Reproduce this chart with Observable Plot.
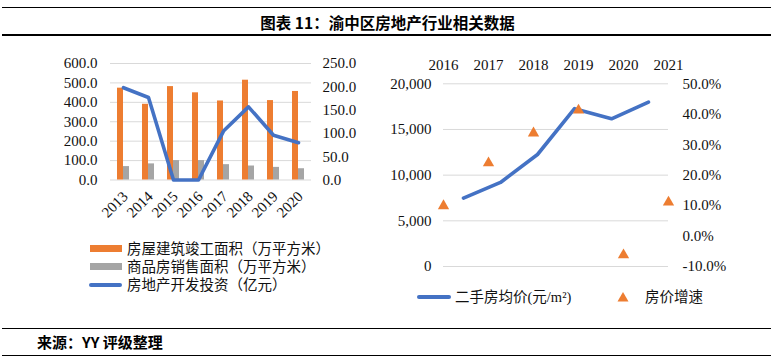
<!DOCTYPE html>
<html><head><meta charset="utf-8">
<script src="https://cdn.jsdelivr.net/npm/d3@7"></script>
<script src="https://cdn.jsdelivr.net/npm/@observablehq/plot@0.6"></script>
<style>
html,body{margin:0;padding:0;background:#fff}
body{width:779px;height:360px;position:relative;overflow:hidden;font-family:"Liberation Serif","Noto Sans CJK SC",serif;color:#111}
.rule{position:absolute;left:2px;width:769px;height:1.4px;background:#000}
.abs{position:absolute}
.title{position:absolute;left:0;width:775px;top:12px;text-align:center;font-family:"Noto Sans CJK SC",sans-serif;font-weight:700;font-size:15.5px;line-height:20px;color:#000}
.caption{position:absolute;left:37px;top:332px;font-family:"Noto Sans CJK SC",sans-serif;font-weight:700;font-size:15px;line-height:20px;color:#000}
.lg{position:absolute;font-size:14.5px;line-height:18px;white-space:nowrap;color:#111}
.sw{position:absolute}
</style></head><body>
<div class="rule" style="top:6.6px"></div>
<div class="title">图表 11：渝中区房地产行业相关数据</div>
<div class="rule" style="top:34.4px"></div>
<div id="left1" class="abs" style="left:0;top:40px;width:370px;height:190px"></div>
<div id="left2" class="abs" style="left:0;top:40px;width:370px;height:190px"></div>
<div id="right1" class="abs" style="left:380px;top:40px;width:380px;height:240px"></div>
<div id="right2" class="abs" style="left:380px;top:40px;width:380px;height:240px"></div>
<div id="legends"></div>
<div class="rule" style="top:327.6px"></div>
<div class="caption">来源：YY 评级整理</div>
<div class="rule" style="top:355px"></div>
<script>
// ---- Left chart data ----
const years = ["2013","2014","2015","2016","2017","2018","2019","2020"];
const completedArea = [473, 390, 481, 449, 407, 514, 409, 456]; // 房屋建筑竣工面积（万平方米）
const salesArea = [69, 83, 100, 100, 79, 72, 65, 58];            // 商品房销售面积（万平方米）
const investment = [198, 177, 0, 0, 105, 157, 96, 80];          // 房地产开发投资（亿元）
const leftTicks = [0, 100, 200, 300, 400, 500, 600];
const rightTicks = [0, 50, 100, 150, 200, 250];

// ---- Right chart data ----
const priceYears = ["2016","2017","2018","2019","2020","2021"];
const avgPrice = [7480, 9200, 12260, 17280, 16170, 17990];      // 二手房均价(元/m²)
const priceGrowth = [0.099, 0.240, 0.338, 0.413, -0.062, 0.111]; // 房价增速
const priceTicks = [0, 5000, 10000, 15000, 20000];
const growthTicks = [-0.1, 0, 0.1, 0.2, 0.3, 0.4, 0.5];

const legendLeft = ["房屋建筑竣工面积（万平方米）", "商品房销售面积（万平方米）", "房地产开发投资（亿元）"];
const legendRight = ["二手房均价(元/m²)", "房价增速"];

const ORANGE = "#ED7D31", GRAY = "#A5A5A5", BLUE = "#4472C4", GRID = "#d9d9d9";
const baseStyle = {fontFamily: "Liberation Serif, serif", fontSize: "15px", color: "#111", background: "transparent", overflow: "visible"};

const leftRows = years.map((y, i) => ({year: y, completed: completedArea[i], sales: salesArea[i], inv: investment[i]}));
const rightRows = priceYears.map((y, i) => ({year: y, price: avgPrice[i], growth: priceGrowth[i]}));

const LG = {width: 370, height: 190, marginLeft: 110, marginRight: 59, marginTop: 23, marginBottom: 50.5};

const left1 = Plot.plot({
  ...LG, style: baseStyle,
  x: {type: "band", domain: years, paddingInner: 0.53, paddingOuter: 0.265},
  y: {domain: [0, 600]},
  marks: [
    Plot.gridY(leftTicks, {stroke: GRID, strokeOpacity: 1}),
    Plot.barY(leftRows, {x: "year", y: "completed", fill: ORANGE, insetRight: 6}),
    Plot.barY(leftRows, {x: "year", y: "sales", fill: GRAY, insetLeft: 6}),
    Plot.axisY(leftTicks, {tickSize: 0, tickPadding: 13, tickFormat: d => d.toFixed(1), label: null}),
    Plot.axisX({tickSize: 0, tickPadding: 14, tickRotate: -45, dx: 2, label: null})
  ]
});
document.getElementById("left1").appendChild(left1);

const left2 = Plot.plot({
  ...LG, style: baseStyle,
  x: {type: "point", domain: years, padding: 0.5, axis: null},
  y: {domain: [0, 250], axis: null},
  marks: [
    Plot.line(leftRows, {x: "year", y: "inv", stroke: BLUE, strokeWidth: 3.6, strokeLinejoin: "round", strokeLinecap: "round"}),
    Plot.axisY(rightTicks, {anchor: "right", tickSize: 0, tickPadding: 11, tickFormat: d => d.toFixed(1), label: null})
  ]
});
document.getElementById("left2").appendChild(left2);

const RG = {width: 380, height: 240, marginLeft: 63, marginRight: 92, marginTop: 43.3, marginBottom: 14};

const right1 = Plot.plot({
  ...RG, style: baseStyle,
  x: {type: "point", domain: priceYears, padding: 0.5, axis: null},
  y: {domain: [0, 20000]},
  marks: [
    Plot.gridY(priceTicks, {stroke: GRID, strokeOpacity: 1}),
    Plot.line(rightRows, {x: "year", y: "price", stroke: BLUE, strokeWidth: 3.6, strokeLinejoin: "round", strokeLinecap: "round"}),
    Plot.axisY(priceTicks, {tickSize: 0, tickPadding: 12, tickFormat: d3.format(","), label: null})
  ]
});
document.getElementById("right1").appendChild(right1);

const right2 = Plot.plot({
  ...RG, style: baseStyle,
  x: {type: "point", domain: priceYears, padding: 0},
  y: {domain: [-0.1, 0.5], axis: null},
  marks: [
    Plot.dot(rightRows, {x: "year", y: "growth", symbol: "triangle", r: 4.2, fill: ORANGE}),
    Plot.axisY(growthTicks, {anchor: "right", tickSize: 0, tickPadding: 14, tickFormat: d => (d * 100).toFixed(1) + "%", label: null}),
    Plot.axisX({anchor: "top", tickSize: 0, tickPadding: 14, label: null})
  ]
});
document.getElementById("right2").appendChild(right2);

// ---- Legends (HTML) ----
const lg = document.getElementById("legends");
function add(html) { lg.insertAdjacentHTML("beforeend", html); }
const leftRowsY = [248.5, 266.5, 285];
add(`<div class="sw" style="left:90px;top:${leftRowsY[0]-3.5}px;width:32px;height:7px;background:${ORANGE}"></div>`);
add(`<div class="sw" style="left:90px;top:${leftRowsY[1]-3.5}px;width:32px;height:7px;background:${GRAY}"></div>`);
add(`<div class="sw" style="left:89px;top:${leftRowsY[2]-1.8}px;width:33px;height:3.6px;border-radius:2px;background:${BLUE}"></div>`);
legendLeft.forEach((t, i) => add(`<div class="lg" style="left:127px;top:${leftRowsY[i]-9}px">${t}</div>`));
add(`<div class="sw" style="left:417px;top:295.2px;width:34px;height:3.6px;border-radius:2px;background:${BLUE}"></div>`);
add(`<div class="lg" style="left:455px;top:288px">${legendRight[0]}</div>`);
add(`<svg class="sw" style="left:617px;top:291px" width="12" height="12"><polygon points="6,1 11.5,10.5 0.5,10.5" fill="${ORANGE}"/></svg>`);
add(`<div class="lg" style="left:645px;top:288px">${legendRight[1]}</div>`);
</script>
</body></html>
